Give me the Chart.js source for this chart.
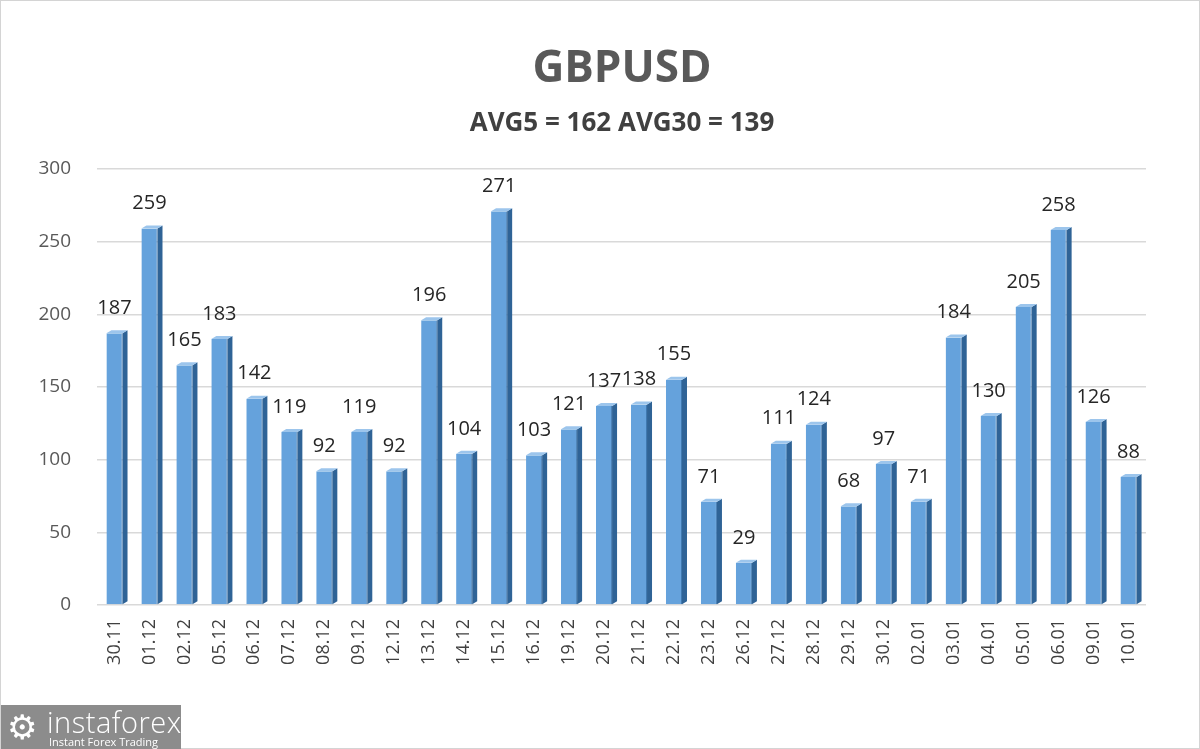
<!DOCTYPE html>
<html>
<head>
<meta charset="utf-8">
<script src="https://cdn.jsdelivr.net/npm/chart.js@4"></script>
<style>
	html, body { margin: 0; padding: 0; background: #fff; }
	#wrap { position: relative; width: 1200px; height: 749px; box-sizing: border-box; border: 1px solid #d4d4d4; }
	#chart { position: absolute; left: 0; top: 0; }
	#logo { position: absolute; left: 0; top: 704px; width: 180px; height: 45px; background: #8c8c8c; color: #fff; font-family: "Open Sans", sans-serif; }
	#logo .gear { position: absolute; left: 6px; top: 1px; font-size: 34px; line-height: 40px; }
	#logo .name { position: absolute; left: 46px; top: -3px; font-size: 29px; font-weight: 300; letter-spacing: 0.5px; }
	#logo .tag { position: absolute; left: 48px; top: 29px; font-size: 11px; }
</style>
</head>
<body>
<div id="wrap">
	<canvas id="chart" width="1200" height="749"></canvas>
	<div id="logo"><span class="gear">⚙</span><span class="name">instaforex</span><span class="tag">Instant Forex Trading</span></div>
</div>
<script>
var days = ['30.11','01.12','02.12','05.12','06.12','07.12','08.12','09.12','12.12','13.12',
	'14.12','15.12','16.12','19.12','20.12','21.12','22.12','23.12','26.12','27.12',
	'28.12','29.12','30.12','02.01','03.01','04.01','05.01','06.01','09.01','10.01'];
var volatility = [187,259,165,183,142,119,92,119,92,196,
	104,271,103,121,137,138,155,71,29,111,
	124,68,97,71,184,130,205,258,126,88];
var yTicks = [0, 50, 100, 150, 200, 250, 300];

var titleText = 'GBPUSD';
var subtitleText = 'AVG5 = 162 AVG30 = 139';

// titles are a bit right of the plot centre in the original, so drawn by hand
var titles = {
	id: 'titles',
	afterDraw: function(chart) {
		var ctx = chart.ctx;
		ctx.save();
		ctx.textAlign = 'center';
		ctx.textBaseline = 'middle';
		ctx.fillStyle = '#595959';
		ctx.font = 'bold 44px "Open Sans", sans-serif';
		ctx.fillText(titleText, 621, 68);
		ctx.fillStyle = '#404040';
		ctx.font = 'bold 26px "Open Sans", sans-serif';
		ctx.fillText(subtitleText, 621, 123);
		ctx.restore();
	}
};

// fake excel-style 3d: side and top faces drawn next to each bar
var bars3d = {
	id: 'bars3d',
	afterDatasetsDraw: function(chart) {
		var ctx = chart.ctx;
		var d = 5;
		chart.getDatasetMeta(0).data.forEach(function(bar) {
			var w = bar.width / 2;
			var l = bar.x - w, r = bar.x + w;
			ctx.save();
			ctx.fillStyle = '#2f6396';
			ctx.beginPath();
			ctx.moveTo(r, bar.y);
			ctx.lineTo(r + d, bar.y - 3);
			ctx.lineTo(r + d, bar.base - 3);
			ctx.lineTo(r, bar.base);
			ctx.closePath();
			ctx.fill();
			ctx.fillStyle = '#9cc5ec';
			ctx.beginPath();
			ctx.moveTo(l, bar.y);
			ctx.lineTo(l + d, bar.y - 3);
			ctx.lineTo(r + d, bar.y - 3);
			ctx.lineTo(r, bar.y);
			ctx.closePath();
			ctx.fill();
			ctx.restore();
		});
	}
};

var valueLabels = {
	id: 'valueLabels',
	afterDatasetsDraw: function(chart) {
		var ctx = chart.ctx;
		ctx.save();
		ctx.font = '20px "Open Sans", sans-serif';
		ctx.fillStyle = '#262626';
		ctx.textAlign = 'center';
		ctx.textBaseline = 'middle';
		chart.getDatasetMeta(0).data.forEach(function(bar, i) {
			ctx.fillText(volatility[i], bar.x, bar.y - 25);
		});
		ctx.restore();
	}
};

var ctx = document.getElementById('chart').getContext('2d');

var myChart = new Chart(ctx, {
	type: 'bar',
	data: {
		labels: days,
		datasets: [{
			data: volatility,
			backgroundColor: '#65a2dc',
			borderColor: '#3f78b0',
			borderWidth: { right: 1, left: 0, top: 0, bottom: 0 },
			barPercentage: 0.46,
			categoryPercentage: 1
		}]
	},
	options: {
		responsive: false,
		animation: false,
		layout: { padding: { left: 0, right: 55, top: 168, bottom: 0 } },
		plugins: {
			legend: { display: false },
			tooltip: { enabled: false }
		},
		scales: {
			x: {
				grid: { display: false, drawTicks: false },
				border: { display: false },
				ticks: {
					minRotation: 90, maxRotation: 90, autoSkip: false, padding: 14,
					color: '#404040',
					font: { family: '"Open Sans", sans-serif', size: 18 }
				},
				afterFit: function(s) { s.height = 145; }
			},
			y: {
				min: 0, max: 300,
				afterBuildTicks: function(s) { s.ticks = yTicks.map(function(v) { return { value: v }; }); },
				grid: { color: '#d9d9d9', lineWidth: 1.5, drawTicks: false },
				border: { display: false },
				ticks: {
					padding: 26,
					color: '#595959',
					font: { family: '"Open Sans", sans-serif', size: 19 }
				},
				afterFit: function(s) { s.width = 96; }
			}
		}
	},
	plugins: [bars3d, valueLabels, titles]
});
myChart.update();
</script>
</body>
</html>
